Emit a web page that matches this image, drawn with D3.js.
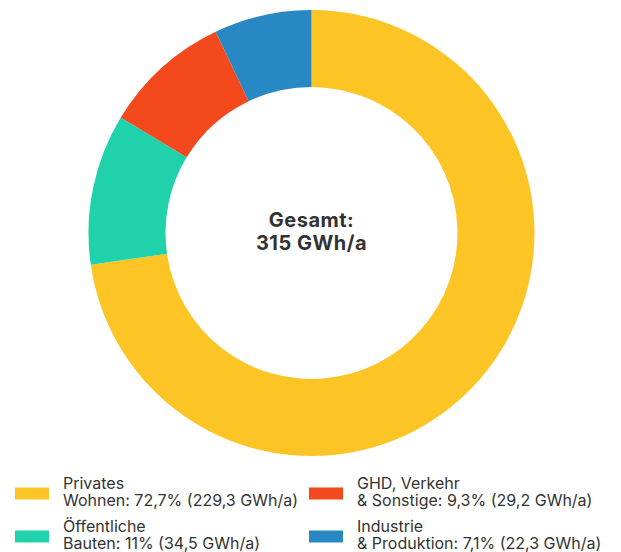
<!DOCTYPE html>
<html>
<head>
<meta charset="utf-8">
<script src="https://cdn.jsdelivr.net/npm/d3@7"></script>
<style>
  html, body { margin: 0; padding: 0; background: #fff; }
  svg { display: block; }
  text { font-family: "Inter", "Lato", sans-serif; fill: #333; }
</style>
</head>
<body>
<svg id="chart" width="621" height="552"></svg>
<script>
// Energy demand by sector (GWh per year)
const sectors = ["Privates Wohnen", "Öffentliche Bauten", "GHD, Verkehr & Sonstige", "Industrie & Produktion"];
const gwh = [229.3, 34.5, 29.2, 22.3];
const shares = ["72,7%", "11%", "9,3%", "7,1%"];
const colors = ["#FDC425", "#1FD2AC", "#F3491C", "#2888C4"];
const legendLines = [
  ["Privates", "Wohnen: 72,7% (229,3 GWh/a)"],
  ["Öffentliche", "Bauten: 11% (34,5 GWh/a)"],
  ["GHD, Verkehr", "& Sonstige: 9,3% (29,2 GWh/a)"],
  ["Industrie", "& Produktion: 7,1% (22,3 GWh/a)"]
];
const totalLabel = ["Gesamt:", "315 GWh/a"];

const svg = d3.select("#chart");
const cx = 311.5, cy = 233, outerR = 223, innerR = 146;

const pie = d3.pie().sort(null).value(d => d);
const arc = d3.arc().innerRadius(innerR).outerRadius(outerR);

const g = svg.append("g").attr("transform", `translate(${cx},${cy})`);
g.selectAll("path")
  .data(pie(gwh))
  .join("path")
  .attr("d", arc)
  .attr("fill", (d, i) => colors[i]);

// Total in the hole
g.append("text")
  .attr("text-anchor", "middle")
  .style("font-weight", 700)
  .style("font-size", "20px")
  .style("letter-spacing", "0.5px")
  .selectAll("tspan")
  .data(totalLabel)
  .join("tspan")
  .attr("x", 0)
  .attr("y", (d, i) => -6.5 + i * 23.5)
  .text(d => d);

// Legend: two columns, two rows
const colX = [15, 309];
const rowY = [488.5, 531.5];
const legend = svg.append("g");
legendLines.forEach((lines, i) => {
  const col = i < 2 ? 0 : 1;
  const row = i % 2;
  const item = legend.append("g").attr("transform", `translate(${colX[col]},${rowY[row]})`);
  item.append("rect")
    .attr("x", 0).attr("y", -1)
    .attr("width", 34).attr("height", 12)
    .attr("fill", colors[i]);
  item.append("text")
    .style("font-size", "16px")
    .selectAll("tspan")
    .data(lines)
    .join("tspan")
    .attr("x", 48)
    .attr("y", (d, j) => j * 17)
    .text(d => d);
});
</script>
</body>
</html>
